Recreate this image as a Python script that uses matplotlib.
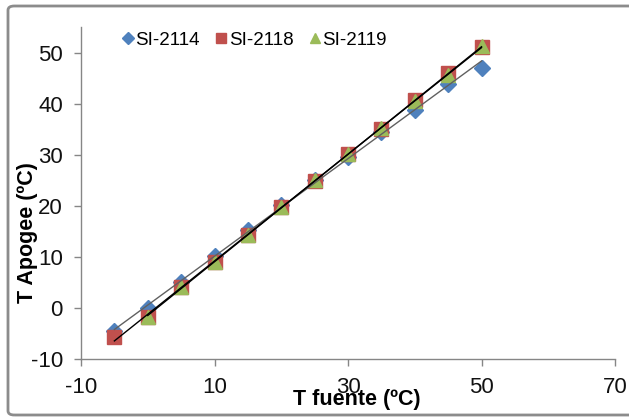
import matplotlib
matplotlib.use("Agg")
import matplotlib.pyplot as plt
import numpy as np
from matplotlib.patches import FancyBboxPatch

plt.rcParams['font.family'] = ['Liberation Sans', 'DejaVu Sans']
plt.rcParams['axes.unicode_minus'] = False

# data
t_fuente = [-5, 0, 5, 10, 15, 20, 25, 30, 35, 40, 45, 50]
si_2114 = [-4.5, 0.0, 5.0, 10.2, 15.2, 20.2, 25.0, 29.5, 34.4, 38.8, 43.9, 47.0]
si_2118 = [-5.7, -1.8, 4.0, 8.9, 14.3, 19.7, 24.9, 30.1, 35.0, 40.7, 45.9, 51.0]
t_fuente_2119 = [0, 5, 10, 15, 20, 25, 30, 35, 40, 45, 50]
si_2119 = [-1.8, 4.0, 9.0, 14.3, 19.8, 25.0, 30.1, 35.2, 40.6, 45.6, 51.3]

x_ticks = [-10, 10, 30, 50, 70]
y_ticks = [-10, 0, 10, 20, 30, 40, 50]

fig = plt.figure(figsize=(6.29, 4.17), dpi=100)
ax = fig.add_axes([81/629, 1-359/417, (615-81)/629, (359-27)/417])

# chart border
border = FancyBboxPatch((8/629, 1-415/417), 1.2, (415-6)/417,
                        boxstyle="round,pad=0,rounding_size=0.01",
                        transform=fig.transFigure, fill=False,
                        edgecolor='#8c8c8c', linewidth=2.0, clip_on=False)
fig.patches.append(border)

ax.plot(t_fuente, si_2114, 'D', color='#4F81BD', markersize=8.5, label='SI-2114', zorder=3)
ax.plot(t_fuente, si_2118, 's', color='#C0504D', markersize=10.5, label='SI-2118', zorder=4)
ax.plot(t_fuente_2119, si_2119, '^', color='#9BBB59', markersize=10.5, label='SI-2119', zorder=5)

# linear trend lines
for xs, ys, col in [(t_fuente, si_2114, '#606060'),
                    (t_fuente, si_2118, 'black'),
                    (t_fuente_2119, si_2119, 'black')]:
    m, b = np.polyfit(xs, ys, 1)
    xx = np.array([xs[0], xs[-1]])
    ax.plot(xx, m*xx + b, color=col, linewidth=1.0, zorder=6)

ax.set_xlim(-10, 70)
ax.set_ylim(-10, 55)
ax.set_xticks(x_ticks)
ax.set_yticks(y_ticks)
ax.spines['top'].set_visible(False)
ax.spines['right'].set_visible(False)
for s in ['left', 'bottom']:
    ax.spines[s].set_color('#868686')
    ax.spines[s].set_linewidth(1.0)
ax.tick_params(direction='out', length=5, width=1.0, color='#868686',
               labelsize=16, labelcolor='#111111', pad=8)

fig.text(28/629, 1-233/417, 'T Apogee (ºC)', rotation=90, ha='center', va='center',
         fontsize=15.5, fontweight='bold')
fig.text(357/629, 1-400/417, 'T fuente (ºC)', ha='center', va='center',
         fontsize=15.5, fontweight='bold')

ax.legend(loc='center', bbox_to_anchor=(255/629, 1-40/417), bbox_transform=fig.transFigure,
          ncol=3, frameon=False, fontsize=13.5, handlelength=0.5, handletextpad=0.15,
          columnspacing=0.9, markerscale=0.7)

fig.savefig('out.png', dpi=100)
